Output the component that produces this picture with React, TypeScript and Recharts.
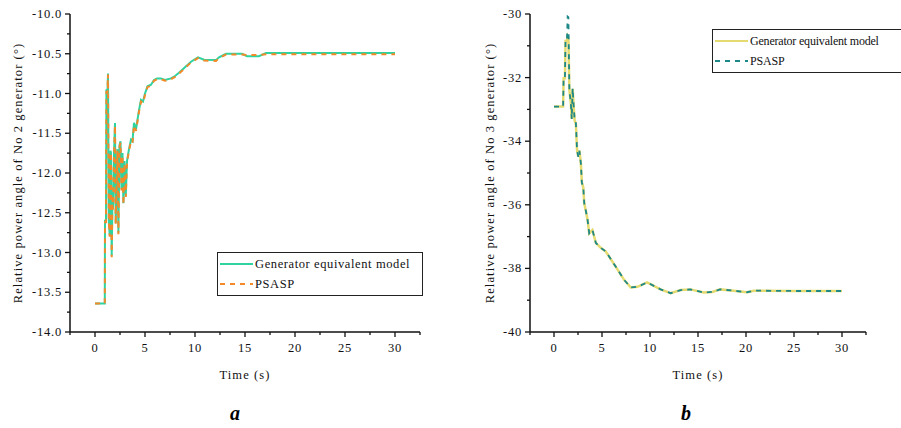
import React from 'react';
import { LineChart, Line, XAxis, YAxis } from 'recharts';

// No 2 generator (a)
const TIME_NO2 = [0, 0.5, 0.98, 1.0, 1.1, 1.14, 1.25, 1.3, 1.38, 1.47, 1.55, 1.6, 1.67, 1.75, 1.8, 1.9, 2.0, 2.07, 2.15, 2.25, 2.34, 2.45, 2.55, 2.65, 2.75, 2.84, 2.95, 3.08, 3.2, 3.4, 3.6, 3.75, 3.9, 4.1, 4.25, 4.4, 4.6, 4.8, 5.0, 5.25, 5.6, 5.9, 6.2, 6.6, 7.0, 7.6, 8.0, 8.4, 9.0, 9.6, 10.3, 10.9, 12.1, 12.4, 13.1, 14.7, 15.2, 16.4, 17.1, 20, 25, 30];
const GEN_NO2 = [-13.64, -13.64, -13.64, -12.6, -12.6, -10.96, -10.96, -10.75, -12.6, -12.78, -11.72, -11.75, -13.04, -12.3, -12.44, -11.75, -11.37, -12.63, -12.2, -11.7, -12.75, -11.65, -11.6, -12.2, -11.75, -12.38, -11.85, -12.28, -11.85, -11.7, -11.58, -11.6, -11.37, -11.45, -11.33, -11.21, -11.08, -11.1, -11.0, -10.91, -10.89, -10.83, -10.81, -10.81, -10.83, -10.81, -10.78, -10.74, -10.67, -10.6, -10.545, -10.575, -10.58, -10.545, -10.5, -10.5, -10.53, -10.53, -10.49, -10.49, -10.49, -10.49];
const PSASP_NO2 = [-13.64, -13.64, -13.64, -12.62, -12.62, -10.98, -10.98, -10.76, -12.62, -12.8, -11.74, -11.77, -13.06, -12.32, -12.46, -11.77, -11.4, -12.65, -12.22, -11.72, -12.77, -11.67, -11.62, -12.22, -11.78, -12.4, -11.88, -12.3, -11.87, -11.72, -11.6, -11.62, -11.4, -11.47, -11.35, -11.23, -11.1, -11.12, -11.02, -10.92, -10.9, -10.84, -10.82, -10.82, -10.84, -10.82, -10.79, -10.75, -10.68, -10.61, -10.555, -10.585, -10.59, -10.555, -10.51, -10.51, -10.515, -10.515, -10.505, -10.505, -10.505, -10.505];

// No 3 generator (b)
const TIME_NO3 = [0, 0.5, 0.95, 1.0, 1.14, 1.2, 1.35, 1.42, 1.5, 1.6, 1.75, 1.85, 1.94, 2.05, 2.15, 2.28, 2.4, 2.53, 2.65, 2.8, 2.9, 3.05, 3.15, 3.3, 3.5, 3.67, 4.0, 4.36, 4.9, 5.4, 6.44, 7.3, 8.0, 8.7, 9.7, 11.1, 12.15, 13.2, 14.2, 15.6, 16.5, 17.3, 18.7, 20.1, 20.8, 25, 30];
const GEN_NO3 = [-32.91, -32.91, -32.91, -32.02, -32.02, -30.85, -30.85, -30.7, -30.75, -32.39, -32.8, -33.3, -32.35, -32.9, -33.35, -33.45, -34.28, -34.49, -34.3, -34.7, -35.3, -35.45, -35.95, -36.16, -36.48, -36.9, -36.79, -37.2, -37.36, -37.47, -37.95, -38.36, -38.6, -38.58, -38.44, -38.66, -38.78, -38.68, -38.66, -38.76, -38.74, -38.66, -38.7, -38.75, -38.7, -38.71, -38.71];
const PSASP_NO3 = [-32.91, -32.91, -32.91, -32.02, -32.02, -30.82, -30.82, -30.08, -30.1, -32.39, -32.8, -33.3, -32.33, -32.9, -33.33, -33.43, -34.28, -34.49, -34.3, -34.7, -35.3, -35.45, -35.95, -36.16, -36.48, -36.9, -36.79, -37.2, -37.36, -37.47, -37.95, -38.36, -38.6, -38.58, -38.44, -38.66, -38.78, -38.68, -38.66, -38.76, -38.74, -38.66, -38.7, -38.75, -38.7, -38.71, -38.71];

// ticks
const X_TICKS = [-2.5, 0, 2.5, 5, 7.5, 10, 12.5, 15, 17.5, 20, 22.5, 25, 27.5, 30, 32.5];
const X_LABELS = [0, 5, 10, 15, 20, 25, 30];
const Y2_TICKS = [-14, -13.75, -13.5, -13.25, -13, -12.75, -12.5, -12.25, -12, -11.75, -11.5, -11.25, -11, -10.75, -10.5, -10.25, -10];
const Y2_LABELS = [-14, -13.5, -13, -12.5, -12, -11.5, -11, -10.5, -10];
const Y3_TICKS = [-40, -39, -38, -37, -36, -35, -34, -33, -32, -31, -30];
const Y3_LABELS = [-40, -38, -36, -34, -32, -30];

const FONT = '"Liberation Serif", "DejaVu Serif", serif';
const TICK_LEN = 5;
const TICK_GAP = 3;

const isIn = (arr: number[], v: number) => arr.some(m => Math.abs(m - v) < 1e-6);

const makeYTick = (labels: number[], fmt: (v: number) => string) => (props: any) => {
  const { x, y, payload } = props;
  const v = payload.value;
  const major = isIn(labels, v);
  const ax = x + TICK_GAP + TICK_LEN;
  return (
    <g>
      <line x1={ax} x2={ax - (major ? 5 : 3)} y1={y} y2={y} stroke="#111" strokeWidth={1.3} />
      {major && (
        <text x={x} y={y} textAnchor="end" dominantBaseline="central" fontFamily={FONT} fontSize={12.5} letterSpacing={0.8} fill="#111">
          {fmt(v)}
        </text>
      )}
    </g>
  );
};

const makeXTick = (labels: number[]) => (props: any) => {
  const { x, y, payload } = props;
  const v = payload.value;
  const major = isIn(labels, v);
  const ay = y - TICK_GAP - TICK_LEN;
  return (
    <g>
      <line x1={x} x2={x} y1={ay} y2={ay + (major ? 5 : 3)} stroke="#111" strokeWidth={1.3} />
      {major && (
        <text x={x} y={y + 3} textAnchor="middle" dominantBaseline="hanging" fontFamily={FONT} fontSize={12.5} letterSpacing={0.8} fill="#111">
          {v}
        </text>
      )}
    </g>
  );
};

const buildRows = (t: number[], g: number[], p: number[]) => t.map((tt, i) => ({ t: tt, gen: g[i], psasp: p[i] }));

const labelStyle = { fontFamily: FONT, fontSize: 12.5, letterSpacing: 1.1, fill: '#111' };

function LegendBox({ left, top, width, solid, dashed, spacing, size }: { left: number; top: number; width: number; solid: string; dashed: string; spacing: number; size: number }) {
  const row = (color: string, dash: boolean, text: string) => (
    <div style={{ display: 'flex', alignItems: 'center', height: 20 }}>
      <svg width={36} height={10} style={{ flex: 'none' }}>
        <line x1={1} x2={34} y1={5} y2={5} stroke={color} strokeWidth={dash ? 2 : 1.8} strokeDasharray={dash ? '5 5' : undefined} />
      </svg>
      <span style={{ fontFamily: FONT, fontSize: size, letterSpacing: spacing, whiteSpace: 'nowrap', color: '#111' }}>{text}</span>
    </div>
  );
  return (
    <div style={{ position: 'absolute', left, top, width, height: 44, border: '1.5px solid #222', boxSizing: 'border-box', padding: '1px 0 0 1px', background: '#fff' }}>
      {row(solid, false, 'Generator equivalent model')}
      {row(dashed, true, 'PSASP')}
    </div>
  );
}

export default function App() {
  const dataNo2 = buildRows(TIME_NO2, GEN_NO2, PSASP_NO2);
  const dataNo3 = buildRows(TIME_NO3, GEN_NO3, PSASP_NO3);

  return (
    <div style={{ position: 'absolute', left: 0, top: 0, width: 901, height: 428, overflow: 'hidden', background: '#fff' }}>
      <div style={{ position: 'absolute', left: 0, top: 0 }}>
        <LineChart width={440} height={428} data={dataNo2} margin={{ top: 14, right: 20, bottom: 66, left: 0 }}>
          <XAxis
            dataKey="t"
            type="number"
            domain={[-2.5, 32.5]}
            ticks={X_TICKS}
            interval={0}
            height={30}
            tickSize={TICK_LEN}
            tickMargin={TICK_GAP}
            tickLine={false}
            axisLine={{ stroke: '#111', strokeWidth: 1.5 }}
            tick={makeXTick(X_LABELS)}
            label={{ value: 'Time (s)', position: 'bottom', offset: 8, style: labelStyle }}
          />
          <YAxis
            type="number"
            domain={[-14, -10]}
            ticks={Y2_TICKS}
            interval={0}
            width={70}
            tickSize={TICK_LEN}
            tickMargin={TICK_GAP}
            tickLine={false}
            axisLine={{ stroke: '#111', strokeWidth: 1.5 }}
            tick={makeYTick(Y2_LABELS, v => v.toFixed(1))}
            label={{ value: 'Relative power angle of No 2 generator (°)', angle: -90, position: 'center', dx: -17, style: labelStyle }}
          />
          <Line dataKey="gen" type="linear" stroke="#2ed3a0" strokeWidth={2} dot={false} isAnimationActive={false} />
          <Line dataKey="psasp" type="linear" stroke="#f28a2a" strokeWidth={2} strokeDasharray="5 5" dot={false} isAnimationActive={false} />
        </LineChart>
      </div>

      <div style={{ position: 'absolute', left: 450, top: 0 }}>
        <LineChart width={451} height={428} data={dataNo3} margin={{ top: 14, right: 35, bottom: 66, left: 0 }}>
          <XAxis
            dataKey="t"
            type="number"
            domain={[-2.5, 32.5]}
            ticks={X_TICKS}
            interval={0}
            height={30}
            tickSize={TICK_LEN}
            tickMargin={TICK_GAP}
            tickLine={false}
            axisLine={{ stroke: '#111', strokeWidth: 1.5 }}
            tick={makeXTick(X_LABELS)}
            label={{ value: 'Time (s)', position: 'bottom', offset: 8, style: labelStyle }}
          />
          <YAxis
            type="number"
            domain={[-40, -30]}
            ticks={Y3_TICKS}
            interval={0}
            width={80}
            tickSize={TICK_LEN}
            tickMargin={TICK_GAP}
            tickLine={false}
            axisLine={{ stroke: '#111', strokeWidth: 1.5 }}
            tick={makeYTick(Y3_LABELS, v => String(v))}
            label={{ value: 'Relative power angle of No 3 generator (°)', angle: -90, position: 'center', dx: 0, style: labelStyle }}
          />
          <Line dataKey="gen" type="linear" stroke="#e4da70" strokeWidth={2.5} dot={false} isAnimationActive={false} />
          <Line dataKey="psasp" type="linear" stroke="#1d8888" strokeWidth={1.8} strokeDasharray="5 5" dot={false} isAnimationActive={false} />
        </LineChart>
      </div>

      <LegendBox left={217} top={252} width={206} solid="#2ed3a0" dashed="#f28a2a" spacing={0.6} size={12.5} />
      <LegendBox left={712} top={29} width={210} solid="#e4da70" dashed="#1d8888" spacing={-0.2} size={12} />

      <div style={{ position: 'absolute', left: 230, top: 402, fontFamily: FONT, fontSize: 20, fontWeight: 'bold', fontStyle: 'italic' }}>a</div>
      <div style={{ position: 'absolute', left: 681, top: 402, fontFamily: FONT, fontSize: 20, fontWeight: 'bold', fontStyle: 'italic' }}>b</div>
    </div>
  );
}
